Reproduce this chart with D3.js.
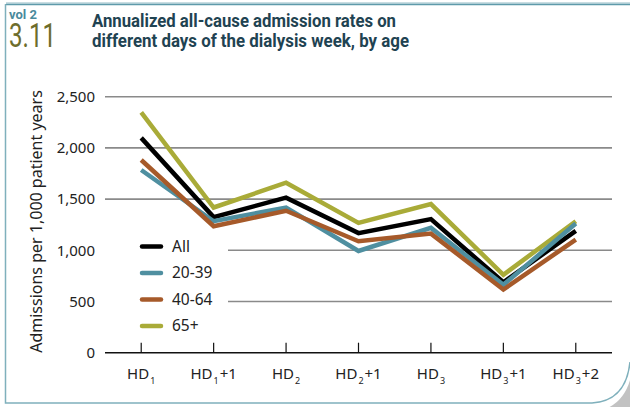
<!DOCTYPE html>
<html><head><meta charset="utf-8">
<script src="https://cdn.jsdelivr.net/npm/d3@7/dist/d3.min.js"></script>
<style>
body{margin:0;background:#fff;}
svg{display:block;}
</style></head>
<body>
<svg id="chart" width="630" height="407"></svg>
<script>
const categories = ["HD1","HD1+1","HD2","HD2+1","HD3","HD3+1","HD3+2"];
const catBase = ["HD","HD","HD","HD","HD","HD","HD"];
const catSub = ["1","1","2","2","3","3","3"];
const catSuffix = ["","+1","","+1","","+1","+2"];
const seriesNames = ["All","20-39","40-64","65+"];
const seriesColors = ["#000000","#4f8fa0","#a65a2a","#a9ab38"];
const valAll  = [2098,1324,1514,1168,1305,688,1190];
const val2039 = [1784,1284,1418,993,1219,663,1261];
const val4064 = [1882,1235,1386,1088,1163,617,1105];
const val65   = [2346,1418,1660,1268,1451,761,1284];
const yTicks = [0,500,1000,1500,2000,2500];
const seriesValues = [valAll,val2039,val4064,val65];

const svg = d3.select("#chart");
const FONT = "'Noto Sans', 'Open Sans', sans-serif";
const NARROW = "Roboto, 'Noto Sans', sans-serif";

// frame
svg.append("line").attr("x1",6).attr("x2",630).attr("y1",3).attr("y2",3).attr("stroke","#c9dde2").attr("stroke-width",2);
svg.append("line").attr("x1",6).attr("x2",630).attr("y1",4.5).attr("y2",4.5).attr("stroke","#5e9aaa").attr("stroke-width",1.5);
svg.append("path").attr("d","M632,372 L632,412 L590,412 Q625,410 632,372 Z").attr("fill","#9a9a9a").attr("opacity",0.6);
svg.append("path").attr("d","M5.5,4 L5.5,403 L592,403 Q626,401 630,362")
  .attr("fill","none").attr("stroke","#7fb0bc").attr("stroke-width",1.5);

// title
svg.append("text").attr("x",9).attr("y",18.5).attr("font-family",NARROW).attr("font-weight","bold")
  .attr("font-size",12).attr("fill","#4a8a9c")
  .attr("textLength",28).attr("lengthAdjust","spacingAndGlyphs").text("vol 2");
svg.append("text").attr("x",9).attr("y",47).attr("font-family",NARROW)
  .attr("font-size",34).attr("fill","#6d6d2c")
  .attr("textLength",47).attr("lengthAdjust","spacingAndGlyphs").text("3.11");
svg.append("text").attr("x",92).attr("y",26.5).attr("font-family",NARROW).attr("font-weight","bold")
  .attr("font-size",18.5).attr("fill","#1f4352")
  .attr("textLength",304).attr("lengthAdjust","spacingAndGlyphs").text("Annualized all-cause admission rates on");
svg.append("text").attr("x",92).attr("y",47).attr("font-family",NARROW).attr("font-weight","bold")
  .attr("font-size",18.5).attr("fill","#1f4352")
  .attr("textLength",317).attr("lengthAdjust","spacingAndGlyphs").text("different days of the dialysis week, by age");

const x = d3.scaleBand().domain(categories).range([105,612]);
const y = d3.scaleLinear().domain([0,2500]).range([352.7,96.7]);

// gridlines
svg.append("g").selectAll("line").data(yTicks.filter(d=>d>0)).join("line")
  .attr("x1",105).attr("x2",612).attr("y1",d=>y(d)).attr("y2",d=>y(d))
  .attr("stroke","#8a8a8a").attr("stroke-width",1.6);

// y tick labels
svg.append("g").selectAll("text").data(yTicks).join("text")
  .attr("x",95).attr("y",d=>y(d)).attr("dy","0.35em").attr("text-anchor","end")
  .attr("font-family",FONT).attr("font-size",15).attr("fill","#222")
  .text(d=>d3.format(",")(d));

// y title
svg.append("text").attr("transform","translate(42,221.5) rotate(-90)").attr("text-anchor","middle")
  .attr("font-family",FONT).attr("font-size",16).attr("fill","#222")
  .text("Admissions per 1,000 patient years");

// x axis
svg.append("line").attr("x1",105).attr("x2",612).attr("y1",y(0)).attr("y2",y(0))
  .attr("stroke","#111").attr("stroke-width",1.5);
svg.append("g").selectAll("line").data(categories).join("line")
  .attr("x1",d=>x(d)+x.bandwidth()/2).attr("x2",d=>x(d)+x.bandwidth()/2)
  .attr("y1",y(0)).attr("y2",y(0)-10).attr("stroke","#111").attr("stroke-width",1.2);
const xl = svg.append("g").selectAll("text").data(categories).join("text")
  .attr("x",d=>x(d)+x.bandwidth()/2).attr("y",379).attr("text-anchor","middle")
  .attr("font-family",FONT).attr("font-size",15).attr("fill","#222");
xl.each(function(d,i){
  const t = d3.select(this);
  t.append("tspan").text(catBase[i]);
  t.append("tspan").attr("font-size",9).attr("dy",5).attr("dx",1).text(catSub[i]);
  if (catSuffix[i]) t.append("tspan").attr("dy",-5).attr("dx",1).text(catSuffix[i]);
});

// legend background
svg.append("rect").attr("x",104).attr("y",232).attr("width",124).attr("height",108).attr("fill","#fff");

// lines
const line = d3.line().x((d,i)=>x(categories[i])+x.bandwidth()/2).y(d=>y(d));
const drawOrder = [3,0,1,2];
drawOrder.forEach(k=>{
  svg.append("path").datum(seriesValues[k]).attr("d",line).attr("fill","none")
    .attr("stroke",seriesColors[k]).attr("stroke-width",4.5).attr("stroke-linejoin","miter");
});
// legend
const leg = svg.append("g").selectAll("g").data(seriesNames).join("g")
  .attr("transform",(d,i)=>`translate(0,${246.5+i*26.5})`);
leg.append("line").attr("x1",142).attr("x2",161).attr("stroke",(d,i)=>seriesColors[i])
  .attr("stroke-width",4.5).attr("stroke-linecap","round");
leg.append("text").attr("x",172).attr("dy","0.35em").attr("font-family",FONT).attr("font-size",15.5)
  .attr("fill","#222").text(d=>d);
</script>
</body></html>
